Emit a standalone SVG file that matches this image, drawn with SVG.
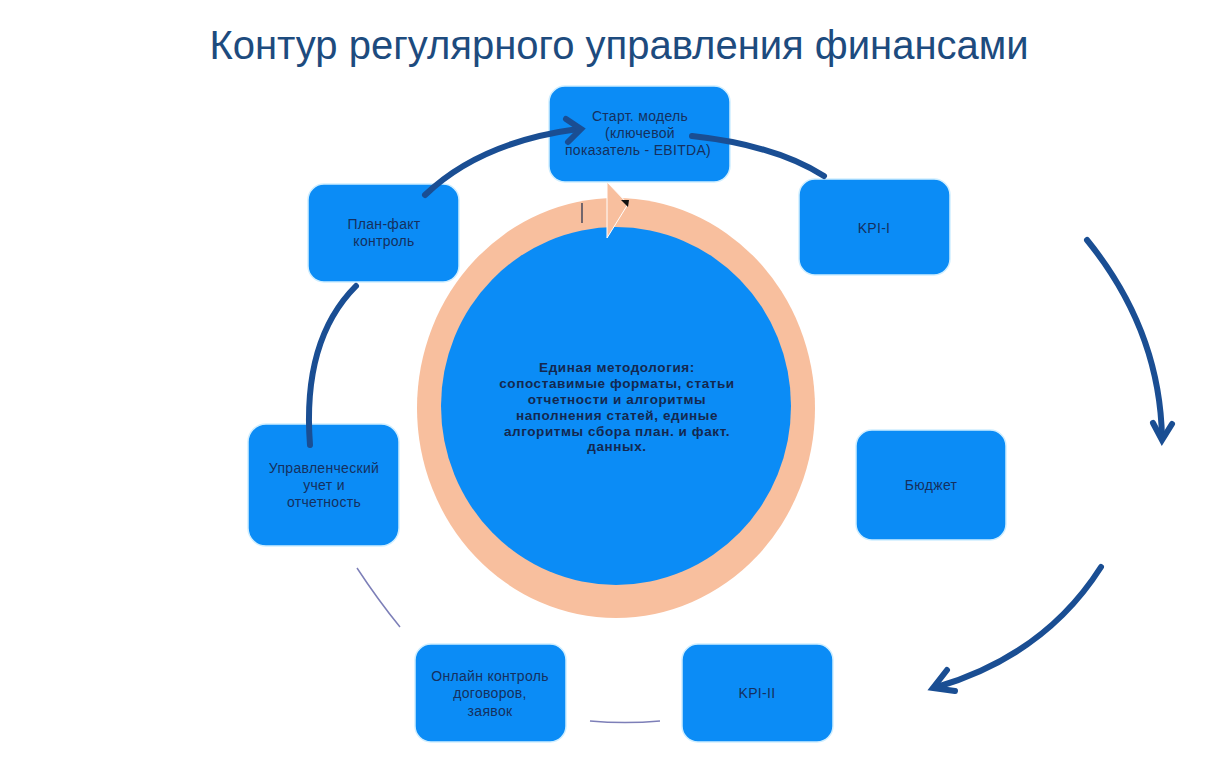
<svg xmlns="http://www.w3.org/2000/svg" width="1229" height="768" viewBox="0 0 1229 768">
<defs>
<style>
.node{fill:#0b8cf6;stroke:#cfeeff;stroke-width:1.5}
.t{font-family:"Liberation Sans",Arial,sans-serif;font-size:14px;fill:#15305e;text-anchor:middle;letter-spacing:0.3px}
.c{font-family:"Liberation Sans",Arial,sans-serif;font-size:13.5px;font-weight:bold;fill:#14284f;text-anchor:middle;letter-spacing:0.6px}
.thick{fill:none;stroke:#1a4e93;stroke-width:6;stroke-linecap:round}
.head{fill:none;stroke:#1a4e93;stroke-width:6;stroke-linecap:round;stroke-linejoin:miter}
.thin{fill:none;stroke:#7d7fb8;stroke-width:1.5}
</style>
</defs>
<rect width="1229" height="768" fill="#ffffff"/>
<text x="619" y="59" font-family="Liberation Sans,Arial,sans-serif" font-size="40" fill="#1d4b7e" text-anchor="middle">Контур регулярного управления финансами</text>

<g id="center">
<ellipse cx="616" cy="408" rx="199" ry="210" fill="#f8bf9e"/>
<ellipse cx="616" cy="406" rx="175" ry="179" fill="#0b8cf6"/>
<polygon points="607,182 628,204 607,238" fill="#f8bf9e" stroke="#ffffff" stroke-width="1"/>
<polygon points="621,200 629,200 628,207" fill="#111111"/>
<line x1="582" y1="203" x2="582" y2="223" stroke="#1a2a4a" stroke-width="1.2"/>
<text class="c" x="617" y="372">Единая методология:</text>
<text class="c" x="617" y="388">сопоставимые форматы, статьи</text>
<text class="c" x="617" y="404">отчетности и алгоритмы</text>
<text class="c" x="617" y="420">наполнения статей, единые</text>
<text class="c" x="617" y="436">алгоритмы сбора план. и факт.</text>
<text class="c" x="617" y="451">данных.</text>
</g>

<g id="start"><rect class="node" x="549" y="86" width="181" height="96" rx="16"/>
<text class="t" x="640" y="121">Старт. модель</text><text class="t" x="640" y="138">(ключевой</text><text class="t" x="638" y="155">показатель - EBITDA)</text></g>
<g id="kpi1"><rect class="node" x="799" y="179" width="151" height="96" rx="16"/>
<text class="t" x="874" y="233">KPI-I</text></g>
<g id="planfakt"><rect class="node" x="308" y="184" width="151" height="98" rx="16"/>
<text class="t" x="384" y="229">План-факт</text><text class="t" x="384" y="246">контроль</text></g>
<g id="budget"><rect class="node" x="856" y="430" width="150" height="110" rx="16"/>
<text class="t" x="931" y="490">Бюджет</text></g>
<g id="upr"><rect class="node" x="248" y="424" width="151" height="122" rx="18"/>
<text class="t" x="324" y="473">Управленческий</text><text class="t" x="324" y="490">учет и</text><text class="t" x="324" y="507">отчетность</text></g>
<g id="online"><rect class="node" x="415" y="644" width="151" height="98" rx="16"/>
<text class="t" x="490" y="681">Онлайн контроль</text><text class="t" x="490" y="698">договоров,</text><text class="t" x="490" y="716">заявок</text></g>
<g id="kpi2"><rect class="node" x="682" y="644" width="151" height="98" rx="16"/>
<text class="t" x="757" y="698">KPI-II</text></g>

<g id="connectors">
<path class="thick" d="M425,195 Q480,142 578,129"/>
<polyline class="head" points="566,119 581,129 568,142"/>
<path class="thick" d="M692,136 Q775,145 824,176"/>
<path class="thick" d="M1087,240 Q1160,330 1162,438"/>
<polyline class="head" points="1153,423 1162,440 1172,424"/>
<path class="thick" d="M1101,567 Q1045,655 937,687"/>
<polyline class="head" points="947,670 933,688 955,691"/>
<path class="thick" d="M310,445 Q302,340 356,286"/>
<path class="thin" d="M400,627 Q378,600 357,568"/>
<path class="thin" d="M590,721 Q625,724 660,721"/>
</g>
</svg>
